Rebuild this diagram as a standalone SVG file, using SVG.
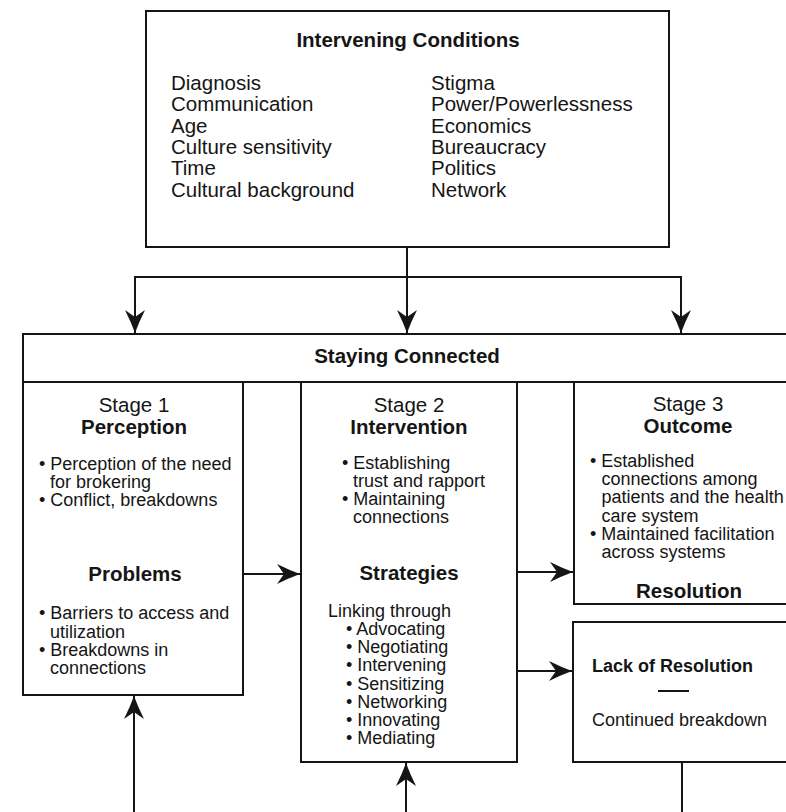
<svg xmlns="http://www.w3.org/2000/svg" width="786" height="812" viewBox="0 0 786 812">
<style>
.box{fill:#fff;stroke:#151515;stroke-width:2}
.ln{fill:none;stroke:#151515;stroke-width:2}
text{font-family:"Liberation Sans",Arial,sans-serif;fill:#151515}
.r21{font-size:20.5px}
.b21{font-size:20.5px;font-weight:bold}
.t18{font-size:18px}
.b18{font-size:18px;font-weight:bold}
.c{text-anchor:middle}
</style>
<defs>
<marker id="ah" markerUnits="userSpaceOnUse" markerWidth="26" markerHeight="24" viewBox="-24 -12 26 24" refX="0" refY="0" orient="auto">
<path d="M0,0 Q-11,-4 -23,-10 L-16,0 L-23,10 Q-11,4 0,0Z" fill="#151515"/>
</marker>
</defs>
<rect width="786" height="812" fill="#fff"/>

<g id="intervening-conditions">
<rect class="box" x="146" y="11" width="523" height="236"/>
<text class="b21 c" x="408" y="47">Intervening Conditions</text>
<text class="r21" x="171" y="90"><tspan x="171">Diagnosis</tspan><tspan x="171" dy="21.3">Communication</tspan><tspan x="171" dy="21.3">Age</tspan><tspan x="171" dy="21.3">Culture sensitivity</tspan><tspan x="171" dy="21.3">Time</tspan><tspan x="171" dy="21.3">Cultural background</tspan></text>
<text class="r21" x="431" y="90"><tspan x="431">Stigma</tspan><tspan x="431" dy="21.3">Power/Powerlessness</tspan><tspan x="431" dy="21.3">Economics</tspan><tspan x="431" dy="21.3">Bureaucracy</tspan><tspan x="431" dy="21.3">Politics</tspan><tspan x="431" dy="21.3">Network</tspan></text>
</g>

<g id="staying-connected">
<rect class="box" x="23" y="334" width="790" height="48"/>
<text class="b21 c" x="407" y="363">Staying Connected</text>
</g>

<g id="stage1">
<rect class="box" x="23" y="382" width="220" height="313"/>
<text class="c" x="134" y="411.5"><tspan class="r21" x="134">Stage 1</tspan><tspan class="b21" x="134" dy="22">Perception</tspan></text>
<text class="t18" x="39" y="469.5"><tspan x="39">• Perception of the need</tspan><tspan x="50" dy="18">for brokering</tspan><tspan x="39" dy="18">• Conflict, breakdowns</tspan></text>
<text class="b21 c" x="135" y="581">Problems</text>
<text class="t18" x="39" y="619"><tspan x="39">• Barriers to access and</tspan><tspan x="50" dy="18.5">utilization</tspan><tspan x="39" dy="18.5">• Breakdowns in</tspan><tspan x="50" dy="18.3">connections</tspan></text>
</g>

<g id="stage2">
<rect class="box" x="301" y="382" width="216" height="380"/>
<text class="c" x="409" y="411.5"><tspan class="r21" x="409">Stage 2</tspan><tspan class="b21" x="409" dy="22">Intervention</tspan></text>
<text class="t18" x="342" y="468.5"><tspan x="342">• Establishing</tspan><tspan x="353" dy="18">trust and rapport</tspan><tspan x="342" dy="18">• Maintaining</tspan><tspan x="353" dy="18">connections</tspan></text>
<text class="b21 c" x="409" y="580">Strategies</text>
<text class="t18" x="328" y="616.5"><tspan x="328">Linking through</tspan><tspan x="346" dy="18.5">• Advocating</tspan><tspan x="346" dy="18.2">• Negotiating</tspan><tspan x="346" dy="18.2">• Intervening</tspan><tspan x="346" dy="18.2">• Sensitizing</tspan><tspan x="346" dy="18.2">• Networking</tspan><tspan x="346" dy="18.2">• Innovating</tspan><tspan x="346" dy="18.2">• Mediating</tspan></text>
</g>

<g id="stage3">
<rect class="box" x="574" y="382" width="240" height="222"/>
<text class="c" x="688" y="410.5"><tspan class="r21" x="688">Stage 3</tspan><tspan class="b21" x="688" dy="22">Outcome</tspan></text>
<text class="t18" x="590" y="467"><tspan x="590">• Established</tspan><tspan x="601.5" dy="18.2">connections among</tspan><tspan x="601.5" dy="18.2">patients and the health</tspan><tspan x="601.5" dy="18.2">care system</tspan><tspan x="590" dy="18.2">• Maintained facilitation</tspan><tspan x="601.5" dy="18.2">across systems</tspan></text>
<text class="b21 c" x="689" y="598">Resolution</text>
</g>

<g id="lack-of-resolution">
<rect class="box" x="573" y="622" width="240" height="140"/>
<text class="b18" x="592" y="672">Lack of Resolution</text>
<line class="ln" x1="658" y1="691" x2="689" y2="691"/>
<text class="t18" x="592" y="726">Continued breakdown</text>
</g>

<g id="connectors">
<line class="ln" x1="407" y1="247" x2="407" y2="333" marker-end="url(#ah)"/>
<polyline class="ln" points="135,333 135,277 681,277 681,333" marker-end="url(#ah)"/>
<line class="ln" x1="135" y1="300" x2="135" y2="333" marker-end="url(#ah)"/>
<line class="ln" x1="243" y1="574" x2="300" y2="574" marker-end="url(#ah)"/>
<line class="ln" x1="517" y1="572" x2="573" y2="572" marker-end="url(#ah)"/>
<line class="ln" x1="517" y1="671" x2="572" y2="671" marker-end="url(#ah)"/>
<line class="ln" x1="134" y1="812" x2="134" y2="696" marker-end="url(#ah)"/>
<line class="ln" x1="406" y1="812" x2="406" y2="763" marker-end="url(#ah)"/>
<line class="ln" x1="682" y1="762" x2="682" y2="812"/>
</g>
</svg>
